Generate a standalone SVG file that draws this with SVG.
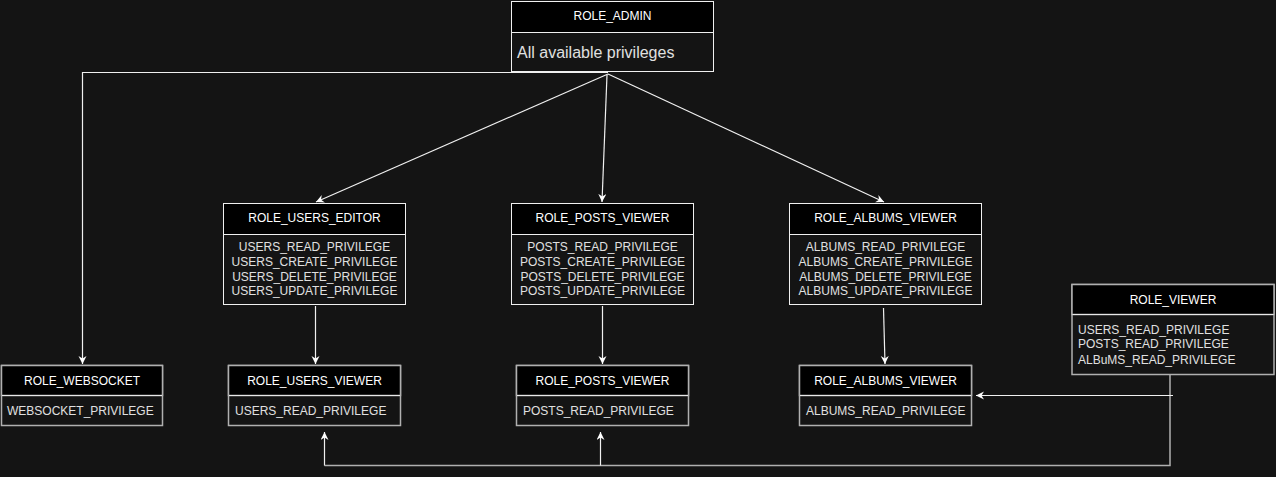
<svg xmlns="http://www.w3.org/2000/svg" width="1276" height="477" viewBox="0 0 1276 477">
<style>
.hdr{fill:#000;stroke:#f0f0f0;stroke-width:1}
.body{fill:#141414;stroke:#f0f0f0;stroke-width:1}
.hdr2{fill:#000;stroke:#b0b0b0;stroke-width:1.5}
.body2{fill:#141414;stroke:#b0b0b0;stroke-width:1.5}
.div{stroke:#e8e8e8;stroke-width:1.2}
.ht{font-family:"Liberation Sans",Arial,sans-serif;font-size:12px;fill:#ffffff;text-anchor:middle}
.bt{font-family:"Liberation Sans",Arial,sans-serif;font-size:12px;fill:#e0e0e0}
.btc{font-family:"Liberation Sans",Arial,sans-serif;font-size:12px;fill:#e0e0e0;text-anchor:middle}
.big{font-family:"Liberation Sans",Arial,sans-serif;font-size:16px;fill:#e0e0e0}
.c{fill:none;stroke:#f0f0f0;stroke-width:1.2}
.cg{fill:none;stroke:#b0b0b0;stroke-width:1.5}
</style>
<defs>
<marker id="arr" markerUnits="userSpaceOnUse" markerWidth="10" markerHeight="10" refX="8" refY="4" orient="auto">
<path d="M0,0 L8,4 L0,8 L2.5,4 Z" fill="#ffffff"/>
</marker>
</defs>
<rect width="1276" height="477" fill="#141414"/>

<g id="connectors">
<polyline class="c" points="608,72.5 82.5,72.5 82.5,364" marker-end="url(#arr)"/>
<line class="c" x1="608" y1="74" x2="316" y2="202" marker-end="url(#arr)"/>
<line class="c" x1="607" y1="75" x2="602" y2="202" marker-end="url(#arr)"/>
<line class="c" x1="608" y1="74" x2="884" y2="202" marker-end="url(#arr)"/>
<line class="c" x1="315.5" y1="306" x2="315.5" y2="364" marker-end="url(#arr)"/>
<line class="c" x1="602.5" y1="306" x2="602.5" y2="364" marker-end="url(#arr)"/>
<line class="c" x1="883.5" y1="308" x2="885" y2="364" marker-end="url(#arr)"/>
<polyline class="cg" points="1170,375 1170,465.5 324.5,465.5"/>
<line class="c" x1="324.5" y1="465.5" x2="324.5" y2="432" marker-end="url(#arr)"/>
<line class="c" x1="600.5" y1="465.5" x2="600.5" y2="432" marker-end="url(#arr)"/>
<line class="c" x1="1173" y1="395.5" x2="976" y2="395.5" marker-end="url(#arr)"/>
</g>

<g id="role_admin">
<rect class="body" x="511.5" y="1.5" width="202" height="70"/>
<rect class="hdr" x="511.5" y="1.5" width="202" height="31"/>
<text class="ht" x="612.5" y="20">ROLE_ADMIN</text>
<text class="big" x="517" y="58">All available privileges</text>
</g>

<g id="role_users_editor">
<rect class="body" x="223.5" y="203.5" width="182" height="101"/>
<rect class="hdr" x="223.5" y="203.5" width="182" height="31"/>
<text class="ht" x="314.5" y="222">ROLE_USERS_EDITOR</text>
<text class="btc" x="314.5" y="251">USERS_READ_PRIVILEGE</text>
<text class="btc" x="314.5" y="265.5">USERS_CREATE_PRIVILEGE</text>
<text class="btc" x="314.5" y="280.5">USERS_DELETE_PRIVILEGE</text>
<text class="btc" x="314.5" y="295">USERS_UPDATE_PRIVILEGE</text>
</g>

<g id="role_posts_viewer_top">
<rect class="body" x="511.5" y="203.5" width="182" height="101"/>
<rect class="hdr" x="511.5" y="203.5" width="182" height="31"/>
<text class="ht" x="602.5" y="222">ROLE_POSTS_VIEWER</text>
<text class="btc" x="602.5" y="251">POSTS_READ_PRIVILEGE</text>
<text class="btc" x="602.5" y="265.5">POSTS_CREATE_PRIVILEGE</text>
<text class="btc" x="602.5" y="280.5">POSTS_DELETE_PRIVILEGE</text>
<text class="btc" x="602.5" y="295">POSTS_UPDATE_PRIVILEGE</text>
</g>

<g id="role_albums_viewer_top">
<rect class="body" x="789.5" y="203.5" width="192" height="101"/>
<rect class="hdr" x="789.5" y="203.5" width="192" height="31"/>
<text class="ht" x="885.5" y="222">ROLE_ALBUMS_VIEWER</text>
<text class="btc" x="885.5" y="251">ALBUMS_READ_PRIVILEGE</text>
<text class="btc" x="885.5" y="265.5">ALBUMS_CREATE_PRIVILEGE</text>
<text class="btc" x="885.5" y="280.5">ALBUMS_DELETE_PRIVILEGE</text>
<text class="btc" x="885.5" y="295">ALBUMS_UPDATE_PRIVILEGE</text>
</g>

<g id="role_websocket">
<rect class="body2" x="1.5" y="365.5" width="161" height="60"/>
<rect class="hdr2" x="1.5" y="365.5" width="161" height="30"/>
<line class="div" x1="2" y1="395.5" x2="162" y2="395.5"/>
<text class="ht" x="82" y="385">ROLE_WEBSOCKET</text>
<text class="bt" x="7" y="414.5">WEBSOCKET_PRIVILEGE</text>
</g>

<g id="role_users_viewer">
<rect class="body2" x="228.5" y="365.5" width="172" height="60"/>
<rect class="hdr2" x="228.5" y="365.5" width="172" height="30"/>
<line class="div" x1="229" y1="395.5" x2="400" y2="395.5"/>
<text class="ht" x="314.5" y="385">ROLE_USERS_VIEWER</text>
<text class="bt" x="235" y="414.5">USERS_READ_PRIVILEGE</text>
</g>

<g id="role_posts_viewer">
<rect class="body2" x="516.5" y="365.5" width="172" height="60"/>
<rect class="hdr2" x="516.5" y="365.5" width="172" height="30"/>
<line class="div" x1="517" y1="395.5" x2="688" y2="395.5"/>
<text class="ht" x="602.5" y="385">ROLE_POSTS_VIEWER</text>
<text class="bt" x="523" y="414.5">POSTS_READ_PRIVILEGE</text>
</g>

<g id="role_albums_viewer">
<rect class="body2" x="799.5" y="365.5" width="172" height="60"/>
<rect class="hdr2" x="799.5" y="365.5" width="172" height="30"/>
<line class="div" x1="800" y1="395.5" x2="971" y2="395.5"/>
<text class="ht" x="885.5" y="385">ROLE_ALBUMS_VIEWER</text>
<text class="bt" x="806" y="414.5">ALBUMS_READ_PRIVILEGE</text>
</g>

<g id="role_viewer">
<rect class="body2" x="1072" y="284.5" width="202" height="90"/>
<rect class="hdr2" x="1072" y="284.5" width="202" height="30"/>
<line class="div" x1="1072.5" y1="314.5" x2="1273.5" y2="314.5"/>
<text class="ht" x="1173" y="303.5">ROLE_VIEWER</text>
<text class="bt" x="1078" y="334">USERS_READ_PRIVILEGE</text>
<text class="bt" x="1078" y="348">POSTS_READ_PRIVILEGE</text>
<text class="bt" x="1078" y="364">ALBuMS_READ_PRIVILEGE</text>
</g>
</svg>
